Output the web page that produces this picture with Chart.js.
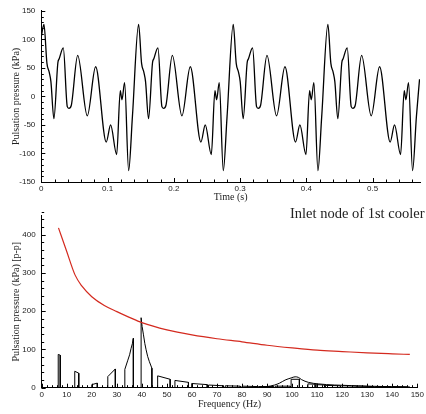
<!DOCTYPE html>
<html>
<head>
<meta charset="utf-8">
<script src="https://cdn.jsdelivr.net/npm/chart.js@4.4.1/dist/chart.umd.min.js"></script>
<style>
  html, body { margin: 0; padding: 0; background: #fff; }
  #wrap { position: relative; width: 426px; height: 414px; overflow: hidden; }
  #top { position: absolute; left: 0; top: 0; }
  #bot { position: absolute; left: 0; top: 200px; }
  #note { position: absolute; left: 290px; top: 204px; font: 14.5px "Liberation Serif", "Times New Roman", serif;
          line-height: 18px; color: #222; white-space: nowrap; }
</style>
</head>
<body>
<div id="wrap">
  <canvas id="top" width="426" height="206"></canvas>
  <canvas id="bot" width="426" height="214"></canvas>
  <div id="note">Inlet node of 1st cooler</div>
</div>
<script>
// time signal (s, kPa)
const timeS = [
  0, 0.004, 0.0085, 0.012, 0.0145, 0.019, 0.025, 0.027, 0.0332, 0.0392, 0.0417, 0.0452, 0.0549, 0.0694, 0.082, 0.098, 0.1046, 0.1137, 0.1192, 0.1217, 0.1257, 0.1318, 0.1375,
  0.1468, 0.1513, 0.1548, 0.1573, 0.1618, 0.1678, 0.1698, 0.1760, 0.1820, 0.1845, 0.1880, 0.1977, 0.2122, 0.2248, 0.2408, 0.2474, 0.2565, 0.2620, 0.2645, 0.2685, 0.2746, 0.2803,
  0.2896, 0.2941, 0.2976, 0.3001, 0.3046, 0.3106, 0.3126, 0.3188, 0.3248, 0.3273, 0.3308, 0.3405, 0.3550, 0.3676, 0.3836, 0.3902, 0.3993, 0.4048, 0.4073, 0.4113, 0.4174, 0.4231,
  0.4324, 0.4369, 0.4404, 0.4429, 0.4474, 0.4534, 0.4554, 0.4616, 0.4676, 0.4701, 0.4736, 0.4833, 0.4978, 0.5104, 0.5264, 0.5330, 0.5421, 0.5476, 0.5501, 0.5541, 0.5602, 0.5660, 0.5707
];
const pressureKPa = [
  105, 126, 58, 42, 26, -39, 59, 66, 85, -18, -21, -16, 72, -34, 52, -80, -50, -102, 10, -6, 24, -130, -35,
  126, 58, 42, 26, -39, 59, 66, 85, -18, -21, -16, 72, -34, 52, -80, -50, -102, 10, -6, 24, -130, -35,
  126, 58, 42, 26, -39, 59, 66, 85, -18, -21, -16, 72, -34, 52, -80, -50, -102, 10, -6, 24, -130, -35,
  126, 58, 42, 26, -39, 59, 66, 85, -18, -21, -16, 72, -34, 52, -80, -50, -102, 10, -6, 24, -130, -35, 30
];

// spectrum outline (Hz, kPa p-p)
const specFreq = [
  0, 6.6, 6.6, 7.4, 7.4, 13.2, 13.2, 14.8, 14.8, 20.0, 20.0, 22.2, 22.2, 26.4, 26.4, 29.4, 29.4,
  33.2, 33.2, 34.4, 35.1, 35.7, 36.2, 36.6, 36.6,
  39.7, 39.7, 40.1, 40.6, 41.2, 41.7, 42.3, 43.0, 44.0, 44.0,
  46.3, 46.3, 51.3, 51.3, 53.2, 53.2, 58.6, 58.6, 59.9, 59.9, 66.1, 66.1,
  66.6, 66.6, 72.6, 72.6, 73.3, 73.3, 79.3, 79.3, 80, 80, 86, 86, 86.6, 86.6, 92.6, 92.6,
  93.3, 93.3, 99.3, 99.3, 99.6, 99.6, 102.9, 102.9,
  106.3, 106.3, 109.2, 109.2, 109.6, 109.6, 113, 113, 113.3, 113.3, 119.3, 119.3,
  120, 120, 126, 126, 126.6, 126.6, 132.6, 132.6, 133.3, 133.3, 139.3, 139.3, 140, 140, 146, 146, 150
];
const specAmp = [
  0, 0, 87, 85, 0, 0, 43, 38, 0, 0, 8, 12, 0, 0, 29, 49, 0,
  0, 48, 72, 86, 103, 115, 129, 0,
  0, 183, 160, 140, 115, 99, 82, 68, 51, 0,
  0, 31, 22, 0, 0, 19, 14, 0, 0, 11, 8, 0,
  0, 7, 5, 0, 0, 5, 4, 0, 0, 4, 3, 0, 0, 3, 3, 0,
  0, 4, 4, 0, 0, 22, 22, 0,
  0, 10, 9, 0, 0, 8, 7, 0, 0, 6, 5, 0,
  0, 5, 4, 0, 0, 4, 3, 0, 0, 3, 3, 0, 0, 3, 2, 0, 0
];

// broadband hump around 100 Hz
const humpFreq = [86, 90, 93, 95, 97.2, 99.6, 101.2, 102.5, 103.8, 106.5, 110.4, 117, 123.7, 130.3, 137, 147];
const humpAmp = [1, 3, 7, 12, 20, 25.5, 28.5, 27, 21, 14, 10, 7, 5.5, 4, 3, 2];

// allowable level (red)
const limitFreq = [6.7, 10, 13.3, 16, 20, 25, 30, 35, 40, 50, 60, 70, 80, 90, 100, 110, 120, 130, 140, 147];
const limitAmp = [418, 356, 295, 266, 238, 215, 199, 184, 170, 151, 138, 128, 120, 111, 104, 98, 94.5, 91, 88.5, 87];

const tickFont = { family: '"Liberation Sans", Arial, sans-serif', size: 8 };
const titleFont = { family: '"Liberation Serif", "Times New Roman", serif', size: 10 };

// Tecplot style ticks pointing into the plot
const inwardTicks = {
  id: 'inwardTicks',
  afterDatasetsDraw(chart, args, o) {
    const ctx = chart.ctx, a = chart.chartArea;
    const xs = chart.scales.x, ys = chart.scales.y;
    ctx.save();
    ctx.strokeStyle = '#000';
    ctx.lineWidth = 1;
    ctx.beginPath();
    function run(scale, step, len, horiz) {
      const n = Math.round((scale.max - scale.min) / step + 1e-6);
      for (let i = 0; i <= n; i++) {
        const p = Math.round(scale.getPixelForValue(scale.min + i * step)) + 0.5;
        if (horiz) { ctx.moveTo(p, a.bottom); ctx.lineTo(p, a.bottom - len); }
        else { ctx.moveTo(a.left, p); ctx.lineTo(a.left + len, p); }
      }
    }
    run(xs, o.xMinor, o.minorLen, true);
    run(xs, o.xMajor, o.majorLen, true);
    run(ys, o.yMinor, o.minorLen, false);
    run(ys, o.yMajor, o.majorLen, false);
    ctx.stroke();
    ctx.restore();
  }
};

function keepMultiples(step) {
  return function (scale) {
    scale.ticks = scale.ticks.filter(t => Math.abs(t.value / step - Math.round(t.value / step)) < 1e-6);
  };
}

function axis(min, max, step, fmt, title, titlePad, size, horiz) {
  return {
    type: 'linear', min: min, max: max,
    grid: { display: false, drawTicks: false },
    border: { display: true, color: '#000', width: 1 },
    ticks: { stepSize: step, font: tickFont, color: '#222', padding: horiz ? 2 : 6, maxRotation: 0, autoSkip: false,
             callback: fmt },
    title: { display: true, text: title, font: titleFont, color: '#222', padding: titlePad },
    afterBuildTicks: keepMultiples(step),
    afterFit: horiz ? (s) => { s.height = size; } : (s) => { s.width = size; }
  };
}

new Chart(document.getElementById('top'), {
  type: 'line',
  data: {
    datasets: [{
      data: timeS.map((t, i) => ({ x: t, y: pressureKPa[i] })),
      borderColor: '#000', borderWidth: 1.3, pointRadius: 0,
      cubicInterpolationMode: 'monotone', fill: false
    }]
  },
  options: {
    responsive: false, animation: false, events: [],
    layout: { padding: { left: 0, right: 6, top: 10, bottom: 0 } },
    plugins: {
      legend: { display: false }, tooltip: { enabled: false },
      inwardTicks: { xMajor: 0.1, xMinor: 0.02, yMajor: 50, yMinor: 10, majorLen: 4, minorLen: 2.5 }
    },
    scales: {
      x: axis(0, 0.5714, 0.1, (v) => String(Number(v.toFixed(2))), 'Time (s)', { top: 0, bottom: 3 }, 24, true),
      y: axis(-150, 150, 50, (v) => String(v), 'Pulsation pressure (kPa)', { top: 10, bottom: 0 }, 41.3, false)
    }
  },
  plugins: [inwardTicks]
});

new Chart(document.getElementById('bot'), {
  type: 'line',
  data: {
    datasets: [{
      data: limitFreq.map((f, i) => ({ x: f, y: limitAmp[i] })),
      borderColor: '#d42a1f', borderWidth: 1.2, pointRadius: 0,
      cubicInterpolationMode: 'monotone', fill: false
    }, {
      data: specFreq.map((f, i) => ({ x: f, y: specAmp[i] })),
      borderColor: '#000', borderWidth: 1, pointRadius: 0, tension: 0, fill: false
    }, {
      data: humpFreq.map((f, i) => ({ x: f, y: humpAmp[i] })),
      borderColor: '#000', borderWidth: 1, pointRadius: 0,
      cubicInterpolationMode: 'monotone', fill: false
    }]
  },
  options: {
    responsive: false, animation: false, events: [],
    layout: { padding: { left: 0, right: 6.3, top: 15.6, bottom: 0 } },
    plugins: {
      legend: { display: false }, tooltip: { enabled: false },
      inwardTicks: { xMajor: 10, xMinor: 2, yMajor: 100, yMinor: 20, majorLen: 4, minorLen: 2.5 }
    },
    scales: {
      x: axis(0, 150, 10, (v) => String(v), 'Frequency (Hz)', { top: 0, bottom: 3.7 }, 26.3, true),
      y: axis(0, 450, 100, (v) => String(v), 'Pulsation pressure (kPa) [p-p]', { top: 10, bottom: 0 }, 41.7, false)
    }
  },
  plugins: [inwardTicks]
});
</script>
</body>
</html>
